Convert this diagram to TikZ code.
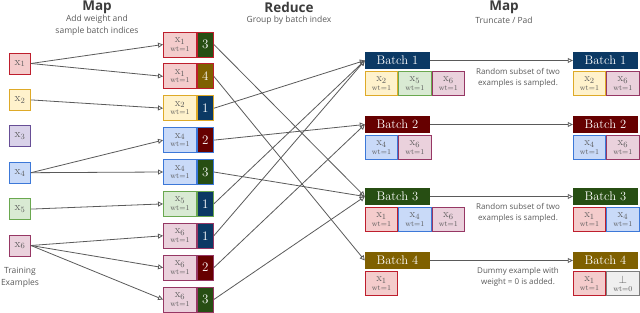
\documentclass[tikz,border=0pt]{standalone}
\usepackage{fontspec}
\newfontfamily\labelsans{Open Sans}
\usetikzlibrary{arrows.meta,positioning}

\definecolor{txtgray}{RGB}{90,90,90}
\definecolor{ttlgray}{RGB}{60,60,60}
\definecolor{arrgray}{RGB}{90,90,90}
\definecolor{exAfill}{RGB}{244,204,204}\definecolor{exAline}{RGB}{190,30,45}
\definecolor{exBfill}{RGB}{255,242,204}\definecolor{exBline}{RGB}{222,170,40}
\definecolor{exCfill}{RGB}{217,210,233}\definecolor{exCline}{RGB}{103,78,150}
\definecolor{exDfill}{RGB}{201,218,248}\definecolor{exDline}{RGB}{60,120,216}
\definecolor{exEfill}{RGB}{217,234,211}\definecolor{exEline}{RGB}{106,168,79}
\definecolor{exFfill}{RGB}{234,209,220}\definecolor{exFline}{RGB}{150,55,100}
\definecolor{dumfill}{RGB}{239,239,239}\definecolor{dumline}{RGB}{125,125,125}
\definecolor{bat1}{RGB}{11,57,100}
\definecolor{bat2}{RGB}{102,0,0}
\definecolor{bat3}{RGB}{39,78,19}
\definecolor{bat4}{RGB}{127,96,0}

\newcommand\exlabel[2]{$\mathrm{x}_{#1}$\\[-2.5pt]{\fontsize{7.5}{7.5}\selectfont wt=#2}}

\tikzset{
  mrdiag/.style={x=1pt,y=-1pt},
  exA/.style={fill=exAfill,draw=exAline},
  exB/.style={fill=exBfill,draw=exBline},
  exC/.style={fill=exCfill,draw=exCline},
  exD/.style={fill=exDfill,draw=exDline},
  exE/.style={fill=exEfill,draw=exEline},
  exF/.style={fill=exFfill,draw=exFline},
  dum/.style={fill=dumfill,draw=dumline},
  lbox/.style={line width=0.9pt,minimum width=21pt,minimum height=21pt,inner sep=0pt,text=txtgray,font=\fontsize{11.5}{11.5}\selectfont},
  ebox/.style={line width=0.9pt,minimum width=33pt,minimum height=25pt,inner sep=0pt,align=center,text=txtgray,font=\fontsize{11}{11}\selectfont},
  ibox/.style={line width=0.9pt,minimum width=16pt,minimum height=25pt,inner sep=0pt,text=white,font=\fontsize{13}{13}\selectfont},
  bhead/.style={minimum width=65pt,minimum height=17pt,inner sep=0pt,text=white,font=\fontsize{12.5}{12.5}\selectfont},
  bitem/.style={line width=0.9pt,minimum width=32.5pt,minimum height=24pt,inner sep=0pt,align=center,text=txtgray,font=\fontsize{11}{11}\selectfont},
  flow/.style={draw=arrgray,line width=0.8pt,-{Triangle[open,length=5pt,width=5pt]}},
  ttl/.style={text=ttlgray,font=\labelsans\bfseries\fontsize{13.5}{13.5}\selectfont},
  sub/.style={text=txtgray,align=center,font=\labelsans\fontsize{8.5}{12.5}\selectfont},
  note/.style={text=txtgray,align=center,font=\labelsans\fontsize{8}{11}\selectfont},
}

\begin{document}
\begin{tikzpicture}[mrdiag]
  \useasboundingbox (0,0) rectangle (640,313);
  % titles
  \node[ttl] (t1) at (97,7) {Map};
  \node[sub] (s1) at (97,25.5) {Add weight and\\sample batch indices};
  \node[ttl] (t2) at (289,7) {Reduce};
  \node[sub] (s2) at (289,20) {Group by batch index};
  \node[ttl] (t3) at (504,7) {Map};
  \node[sub] (s3) at (504,20) {Truncate / Pad};
  \node[sub] (tr) at (20,277.5) {Training\\Examples};

  % training examples
  \foreach \i/\s in {1/exA,2/exB,3/exC,4/exD,5/exE,6/exF}
    \node[lbox,\s] (x\i) at (20,{63.5+36.4*(\i-1)}) {$\mathrm{x}_{\i}$};

  % batches
  \foreach \b/\y in {1/60.5,2/124.5,3/196.5,4/260.5}{
    \node[bhead,fill=bat\b] (b\b) at (397.5,\y) {Batch \b};
    \node[bhead,fill=bat\b] (r\b) at (605.5,\y) {Batch \b};
    \draw[flow] (b\b) -- (r\b);
  }

  % weighted examples with batch index
  \foreach \k/\i/\col/\b in {1/1/exA/3,2/1/exA/4,3/2/exB/1,4/4/exD/2,5/4/exD/3,6/5/exE/1,7/6/exF/1,8/6/exF/2,9/6/exF/3}{
    \node[ebox,\col] (m\k) at (180,{44.5+31.875*(\k-1)}) {\exlabel{\i}{1}};
    \node[ibox,draw=\col line,fill=bat\b,right=0pt of m\k] (m\k i) {\b};
    \draw[flow] (x\i.east) -- (m\k.west);
    \draw[flow] (m\k i.east) -- (b\b.west);
  }

  % grouped
  \node[bitem,exB,below right=2pt and 0pt of b1.south west] (b1a) {\exlabel{2}{1}};
  \node[bitem,exE,right=0pt of b1a] (b1b) {\exlabel{5}{1}};
  \node[bitem,exF,right=0pt of b1b] (b1c) {\exlabel{6}{1}};
  \node[bitem,exD,below right=2pt and 0pt of b2.south west] (b2a) {\exlabel{4}{1}};
  \node[bitem,exF,right=0pt of b2a] (b2b) {\exlabel{6}{1}};
  \node[bitem,exA,below right=2pt and 0pt of b3.south west] (b3a) {\exlabel{1}{1}};
  \node[bitem,exD,right=0pt of b3a] (b3b) {\exlabel{4}{1}};
  \node[bitem,exF,right=0pt of b3b] (b3c) {\exlabel{6}{1}};
  \node[bitem,exA,below right=2pt and 0pt of b4.south west] (b4a) {\exlabel{1}{1}};

  % truncated / padded
  \node[bitem,exB,below right=2pt and 0pt of r1.south west] (r1a) {\exlabel{2}{1}};
  \node[bitem,exF,right=0pt of r1a] (r1b) {\exlabel{6}{1}};
  \node[bitem,exD,below right=2pt and 0pt of r2.south west] (r2a) {\exlabel{4}{1}};
  \node[bitem,exF,right=0pt of r2a] (r2b) {\exlabel{6}{1}};
  \node[bitem,exA,below right=2pt and 0pt of r3.south west] (r3a) {\exlabel{1}{1}};
  \node[bitem,exD,right=0pt of r3a] (r3b) {\exlabel{4}{1}};
  \node[bitem,exA,below right=2pt and 0pt of r4.south west] (r4a) {\exlabel{1}{1}};
  \node[bitem,dum,right=0pt of r4a] (r4b) {$\perp$\\[-2.5pt]{\fontsize{7.5}{7.5}\selectfont wt=0}};

  % notes
  \node[note] (n1) at (518,78) {Random subset of two\\examples is sampled.};
  \node[note] (n3) at (518,212.5) {Random subset of two\\examples is sampled.};
  \node[note] (n4) at (518,276.5) {Dummy example with\\weight = 0 is added.};
\end{tikzpicture}
\end{document}
